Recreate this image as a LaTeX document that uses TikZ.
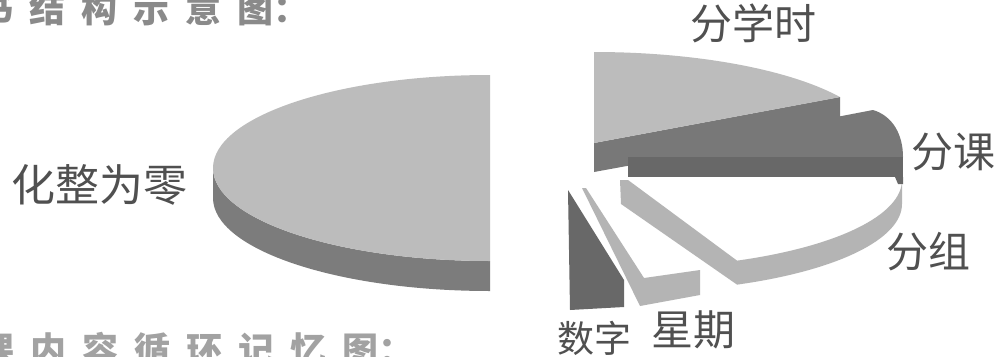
\documentclass[tikz,border=0pt]{standalone}
\usepackage{fontspec}
\newfontfamily\cjk{Noto Sans CJK SC}
\definecolor{topgray}{HTML}{BCBCBC}
\definecolor{sidegray}{HTML}{7C7C7C}
\definecolor{midgray}{HTML}{787878}
\definecolor{darkgray}{HTML}{686868}
\definecolor{bandgray}{HTML}{B4B4B4}
\definecolor{labelgray}{HTML}{505050}
\definecolor{headA}{HTML}{8A8A8A}
\definecolor{headB}{HTML}{A2A2A2}
\tikzset{
  lbl/.style={font=\cjk\fontsize{42}{42}\selectfont, text=labelgray, inner sep=0pt},
  head/.style={font=\cjk\bfseries\fontsize{36}{36}\selectfont, inner sep=0pt, anchor=base west},
  lighttop/.style={fill=topgray},
  lightside/.style={fill=bandgray},
  darkside/.style={fill=sidegray},
  darkface/.style={fill=midgray},
  darkstrip/.style={fill=darkgray}
}
\begin{document}
\begin{tikzpicture}[x=1pt,y=-1pt]
\useasboundingbox (0,0) rectangle (998,356);
\fill[white] (0,0) rectangle (998,356);
% left half disk
\fill[darkside] (490,261) arc[start angle=90, end angle=180, x radius=277, y radius=93]
  -- ++(0,30) arc[start angle=180, end angle=90, x radius=277, y radius=93] -- cycle;
\fill[lighttop] (490,75) arc[start angle=-90, end angle=-270, x radius=277, y radius=93] -- cycle;
% right exploded pie
% fen ke top face
\fill[darkface] (628,157) -- (873,110) .. controls (893,116) and (903,135) .. (903,157) -- cycle;
% fen xue shi cut face and top face
\fill[darkface] (594,143) -- (840,97) -- (840,127) -- (594,172) -- cycle;
\fill[lighttop] (594,52) arc[start angle=-90, end angle=-30.3, x radius=285, y radius=91] -- (594,143) -- cycle;
% fen zu slice
\fill[lightside] (902,180) arc[start angle=0, end angle=66.4, x radius=275, y radius=88]
  -- ++(0,24) arc[start angle=66.4, end angle=0, x radius=275, y radius=88] -- cycle;
\fill[lightside] (620,180) -- (628,180) -- (737,260.6) -- (737,284.6) -- (621,204) -- cycle;
% fen ke strip
\fill[darkstrip] (628,157) rectangle (903,177);
\fill[darkstrip] (895,177) -- (903,177) -- (903,184) -- (898,184) -- cycle;
% xing qi slice
\fill[lightside] (582,188) -- (586,188) -- (644,278) -- (700,270) -- (700,295) -- (640,306) -- cycle;
% shu zi slice
\fill[darkstrip] (568,190) -- (624,280) -- (624,307) -- (570,310) -- cycle;
% labels
\node[lbl, font=\cjk\fontsize{44}{44}\selectfont] (l0) at (100,185) {化整为零};
\node[lbl] (l1) at (753,23) {分学时};
\node[lbl] (l2) at (953,152) {分课};
\node[lbl] (l3) at (928,252) {分组};
\node[lbl, font=\cjk\fontsize{37}{37}\selectfont] (l4) at (594,338) {数字};
\node[lbl] (l5) at (693,330) {星期};
% cut-off headings
\node[head, text=headA] (t1) at (-23,22) {书\hspace{16pt}结\hspace{16pt}构\hspace{16pt}示\hspace{16pt}意\hspace{16pt}图：};
\node[head, text=headB] (t2) at (-22,363) {课\hspace{16pt}内\hspace{16pt}容\hspace{16pt}循\hspace{16pt}环\hspace{16pt}记\hspace{16pt}忆\hspace{16pt}图：};
\end{tikzpicture}
\end{document}
